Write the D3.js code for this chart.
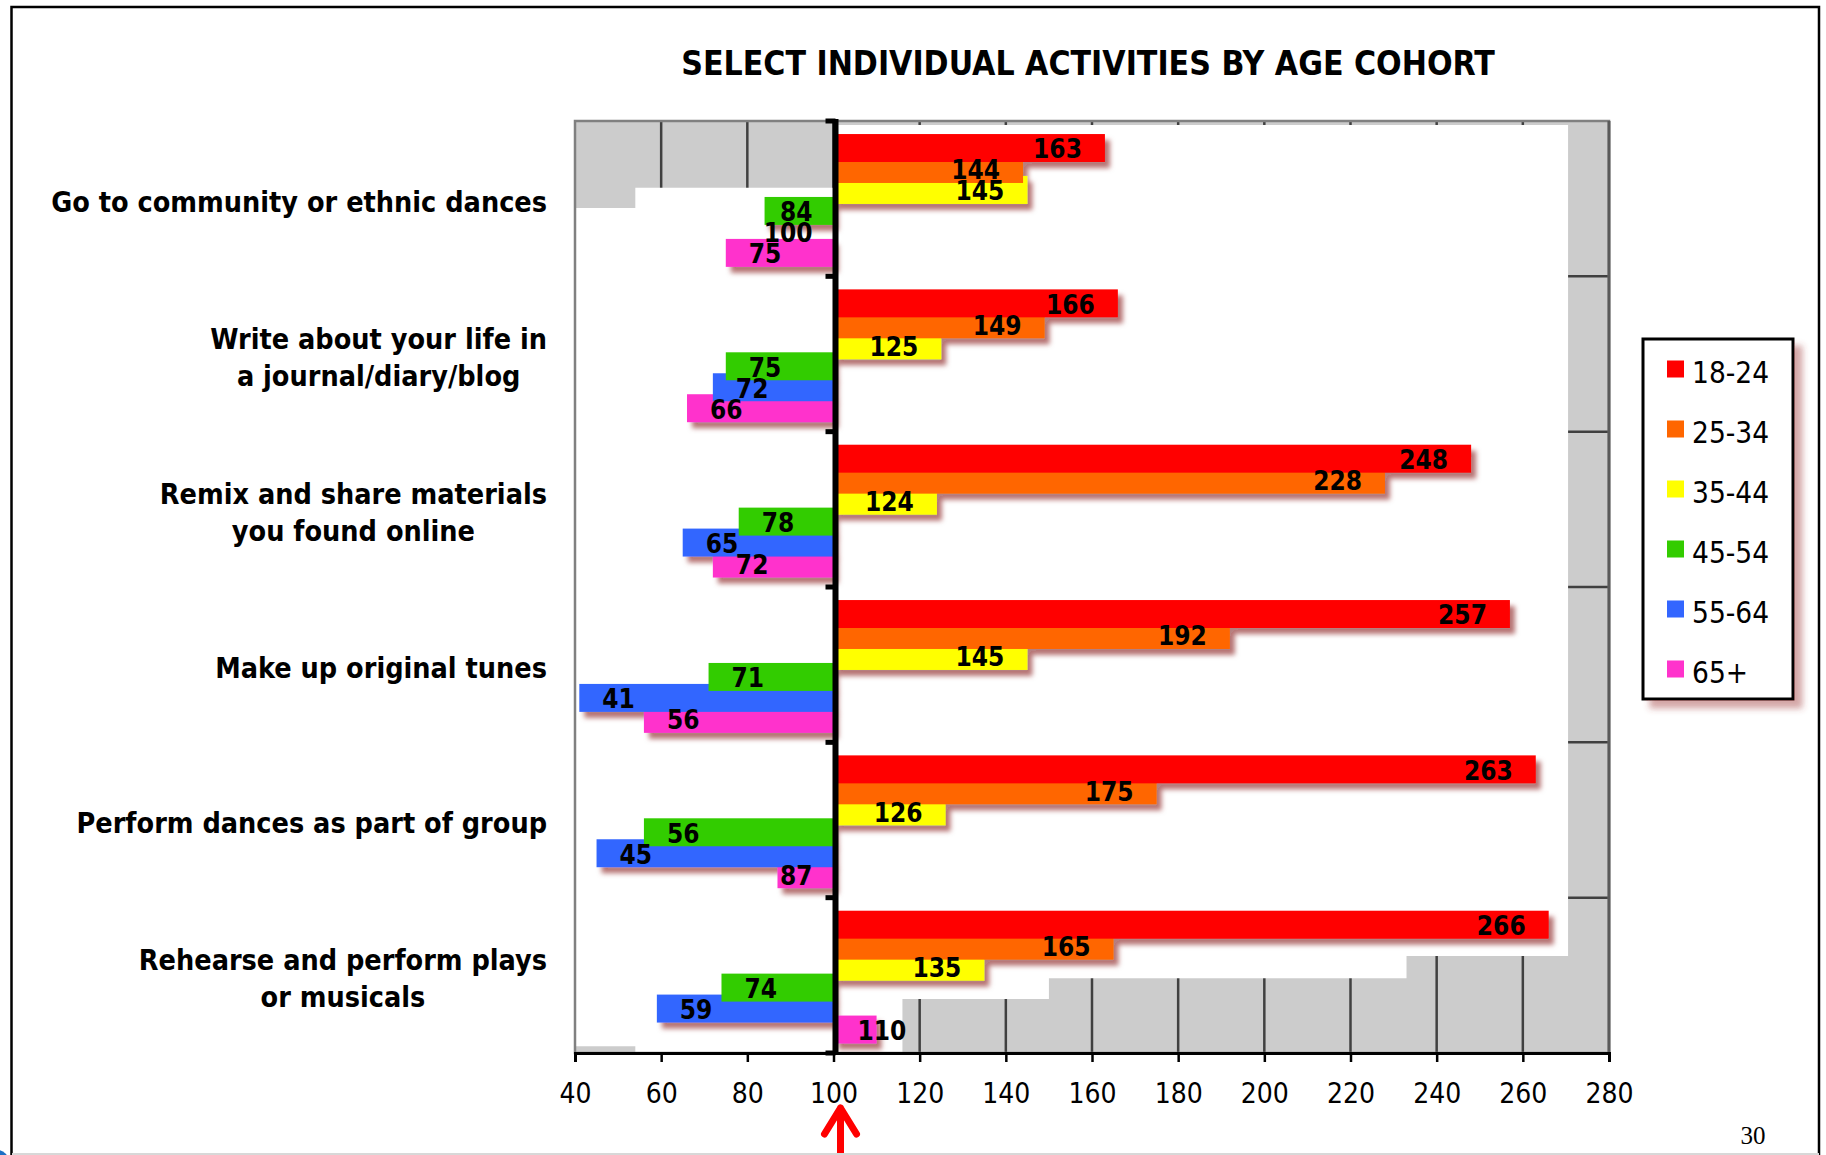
<!DOCTYPE html>
<html>
<head>
<meta charset="utf-8">
<script src="https://cdn.jsdelivr.net/npm/d3@7"></script>
<style>
  html, body { margin: 0; padding: 0; background: #ffffff; }
  svg { display: block; }
</style>
</head>
<body>
<svg id="chart" width="1826" height="1155"></svg>
<script>
// Activity categories (label lines separated by \n)
const categories = [
  "Go to community or ethnic dances",
  "Write about your life in\na journal/diary/blog",
  "Remix and share materials\nyou found online",
  "Make up original tunes",
  "Perform dances as part of group",
  "Rehearse and perform plays\nor musicals"
];

// Age cohorts and their index values (100 = average)
const cohorts = ["18-24", "25-34", "35-44", "45-54", "55-64", "65+"];
const age18to24 = [163, 166, 248, 257, 263, 266];
const age25to34 = [144, 149, 228, 192, 175, 165];
const age35to44 = [145, 125, 124, 145, 126, 135];
const age45to54 = [84, 75, 78, 71, 56, 74];
const age55to64 = [100, 72, 65, 41, 45, 59];
const age65plus = [75, 66, 72, 56, 87, 110];

const xTicks = [40, 60, 80, 100, 120, 140, 160, 180, 200, 220, 240, 260, 280];
const baseline = 100;

const seriesValues = [age18to24, age25to34, age35to44, age45to54, age55to64, age65plus];
const colors = ["#ff0000", "#ff6600", "#ffff00", "#33cc00", "#3366ff", "#ff33cc"];

const svg = d3.select("#chart");
const font = "'DejaVu Sans Condensed', 'DejaVu Sans', sans-serif";

const plot = { left: 575, right: 1609, top: 121, bottom: 1053 };

const x = d3.scaleLinear().domain([40, 280]).range([plot.left, plot.right]);
const y = d3.scaleBand().domain(categories).range([plot.top, plot.bottom]);
const bw = y.bandwidth();
const barTop = bw * 0.084, barStep = bw * 0.135, barThick = bw * 0.18;

// Filters: bar and legend drop shadows
const defs = svg.append("defs");
function shadow(id, dx, dy, blur, color, op) {
  const f = defs.append("filter").attr("id", id)
    .attr("x", "-10%").attr("y", "-10%").attr("width", "130%").attr("height", "130%");
  f.append("feGaussianBlur").attr("in", "SourceAlpha").attr("stdDeviation", blur).attr("result", "b");
  f.append("feOffset").attr("in", "b").attr("dx", dx).attr("dy", dy).attr("result", "o");
  f.append("feFlood").attr("flood-color", color).attr("flood-opacity", op);
  f.append("feComposite").attr("in2", "o").attr("operator", "in").attr("result", "s");
  const m = f.append("feMerge");
  m.append("feMergeNode").attr("in", "s");
  m.append("feMergeNode").attr("in", "SourceGraphic");
}
shadow("barShadow", 5, 6, 2.5, "#7a0c0c", 0.55);
shadow("boxShadow", 8, 8, 3, "#a03c3c", 0.45);

// Grey back wall with gridlines
svg.append("rect")
  .attr("x", plot.left).attr("y", plot.top)
  .attr("width", plot.right - plot.left).attr("height", plot.bottom - plot.top)
  .attr("fill", "#cccccc");

svg.append("g").selectAll("line")
  .data(xTicks.filter(t => t > 40 && t < 280))
  .join("line")
  .attr("x1", d => x(d)).attr("x2", d => x(d))
  .attr("y1", plot.top).attr("y2", plot.bottom)
  .attr("stroke", "#404040").attr("stroke-width", 2.5);

svg.append("g").selectAll("line")
  .data(categories.slice(1))
  .join("line")
  .attr("x1", plot.left).attr("x2", plot.right)
  .attr("y1", d => y(d)).attr("y2", d => y(d))
  .attr("stroke", "#404040").attr("stroke-width", 2.5);

// White floor panel in front of the wall (x in axis units, y in bands from top)
const panel = [
  [40, 0.56], [54, 0.56], [54, 0.43], [100, 0.43], [100, 0.026], [270.5, 0.026],
  [270.5, 5.376], [233, 5.376], [233, 5.518], [150, 5.518], [150, 5.653],
  [116, 5.653], [116, 6], [54, 6], [54, 5.956], [40, 5.956]
];
svg.append("path")
  .attr("d", d3.line().x(p => x(p[0])).y(p => plot.top + p[1] * bw)(panel) + "Z")
  .attr("fill", "#ffffff");

// Plot frame
svg.append("rect")
  .attr("x", plot.left).attr("y", plot.top)
  .attr("width", plot.right - plot.left).attr("height", plot.bottom - plot.top)
  .attr("fill", "none").attr("stroke", "#808080").attr("stroke-width", 2.5);
svg.append("line")
  .attr("x1", plot.right).attr("x2", plot.right).attr("y1", plot.top).attr("y2", plot.bottom)
  .attr("stroke", "#5a5a5a").attr("stroke-width", 3);

// Bars: first cohort drawn last so it sits on top
const rows = [];
seriesValues.forEach((vals, si) => {
  vals.forEach((v, ci) => rows.push({ si, cat: categories[ci], v }));
});

const barG = svg.append("g").attr("filter", "url(#barShadow)");
barG.selectAll("rect")
  .data(rows.slice().sort((a, b) => b.si - a.si))
  .join("rect")
  .attr("x", d => Math.min(x(baseline), x(d.v)))
  .attr("width", d => Math.abs(x(d.v) - x(baseline)))
  .attr("y", d => y(d.cat) + barTop + d.si * barStep)
  .attr("height", barThick)
  .attr("fill", d => colors[d.si]);

// Value labels, inside the bar end, kept clear of the 100 axis
const labelG = svg.append("g");
rows.forEach(d => {
  const t = labelG.append("text")
    .attr("font-family", font).attr("font-weight", "bold").attr("font-size", 26)
    .attr("fill", "#000")
    .attr("y", y(d.cat) + barTop + d.si * barStep + barThick / 2 + 1)
    .attr("dy", "0.36em")
    .text(d.v);
  const w = t.node().getComputedTextLength();
  const base = x(baseline), end = x(d.v);
  let left;
  if (d.v > baseline) {
    left = end - 23 - w;
    if (left < base + 24) left = base + 24;
  } else {
    left = end + 23;
    if (left + w > base - 21) left = base - 21 - w;
  }
  t.attr("x", left);
});

// Baseline axis at 100 with category ticks
const bx = x(baseline) + 2;
svg.append("line")
  .attr("x1", bx).attr("x2", bx).attr("y1", plot.top - 2).attr("y2", plot.bottom + 2)
  .attr("stroke", "#000").attr("stroke-width", 6);
svg.append("g").selectAll("line")
  .data(categories.map(c => y(c)).concat([plot.bottom]))
  .join("line")
  .attr("x1", bx - 10).attr("x2", bx)
  .attr("y1", d => d).attr("y2", d => d)
  .attr("stroke", "#000").attr("stroke-width", 5);

// Horizontal value axis
const xAxis = svg.append("g")
  .attr("transform", `translate(0,${plot.bottom})`)
  .call(d3.axisBottom(x).tickValues(xTicks).tickSize(9).tickPadding(21).tickFormat(d3.format("d")));
xAxis.select(".domain").attr("stroke", "#000").attr("stroke-width", 3);
xAxis.selectAll(".tick line").attr("stroke", "#000").attr("stroke-width", 2.5);
xAxis.selectAll(".tick text")
  .attr("font-family", font).attr("font-size", 28).attr("fill", "#000");

// Category labels, multi-line labels centred on their own block
const catG = svg.append("g");
const lineGap = 37, labelRight = 547;
categories.forEach(c => {
  const lines = c.split("\n");
  const cy = y(c) + bw / 2 + 3;
  const texts = lines.map((ln, i) => catG.append("text")
    .attr("font-family", font).attr("font-weight", "bold").attr("font-size", 28.5)
    .attr("fill", "#000")
    .attr("y", cy + (i - (lines.length - 1) / 2) * lineGap)
    .attr("dy", "0.36em")
    .text(ln));
  if (lines.length === 1) {
    texts[0].attr("x", labelRight).attr("text-anchor", "end");
  } else {
    const wMax = d3.max(texts, t => t.node().getComputedTextLength());
    texts.forEach(t => t.attr("x", labelRight - wMax / 2).attr("text-anchor", "middle"));
  }
});

// Title
svg.append("text")
  .attr("x", 1088).attr("y", 75)
  .attr("text-anchor", "middle")
  .attr("font-family", font).attr("font-weight", "bold").attr("font-size", 33.5)
  .attr("fill", "#000")
  .text("SELECT INDIVIDUAL ACTIVITIES BY AGE COHORT");

// Legend
const lg = svg.append("g");
lg.append("rect")
  .attr("x", 1643).attr("y", 339).attr("width", 150).attr("height", 360)
  .attr("fill", "#fff").attr("stroke", "#000").attr("stroke-width", 3)
  .attr("filter", "url(#boxShadow)");
const entries = lg.selectAll("g.entry").data(cohorts).join("g")
  .attr("class", "entry")
  .attr("transform", (d, i) => `translate(1667,${369 + i * 60})`);
entries.append("rect")
  .attr("x", 0).attr("y", -8.5).attr("width", 17).attr("height", 17)
  .attr("fill", (d, i) => colors[i]);
entries.append("text")
  .attr("x", 25).attr("y", 3).attr("dy", "0.36em")
  .attr("font-family", font).attr("font-size", 29.5).attr("fill", "#000")
  .text(d => d);

// Red pointer under the 100 mark
const ax = x(baseline) + 7;
svg.append("path")
  .attr("d", `M${ax},1158 L${ax},1108 M${ax - 16},1134 L${ax},1108 L${ax + 16},1134`)
  .attr("fill", "none").attr("stroke", "#ff0000").attr("stroke-width", 7)
  .attr("stroke-linecap", "round").attr("stroke-linejoin", "round");

// Page number
svg.append("text")
  .attr("x", 1753).attr("y", 1144).attr("text-anchor", "middle")
  .attr("font-family", "'Liberation Serif', 'DejaVu Serif', serif").attr("font-size", 25)
  .attr("fill", "#000").text("30");

// Slide frame
svg.append("path")
  .attr("d", "M11.5,1156 L11.5,7 L1819,7 L1819,1156")
  .attr("fill", "none").attr("stroke", "#000").attr("stroke-width", 2.5);
svg.append("line")
  .attr("x1", 12).attr("x2", 1819).attr("y1", 1154).attr("y2", 1154)
  .attr("stroke", "#d8d8d8").attr("stroke-width", 2);
svg.append("circle")
  .attr("cx", -3).attr("cy", 1162).attr("r", 12).attr("fill", "#1c6fc4");
</script>
</body>
</html>
